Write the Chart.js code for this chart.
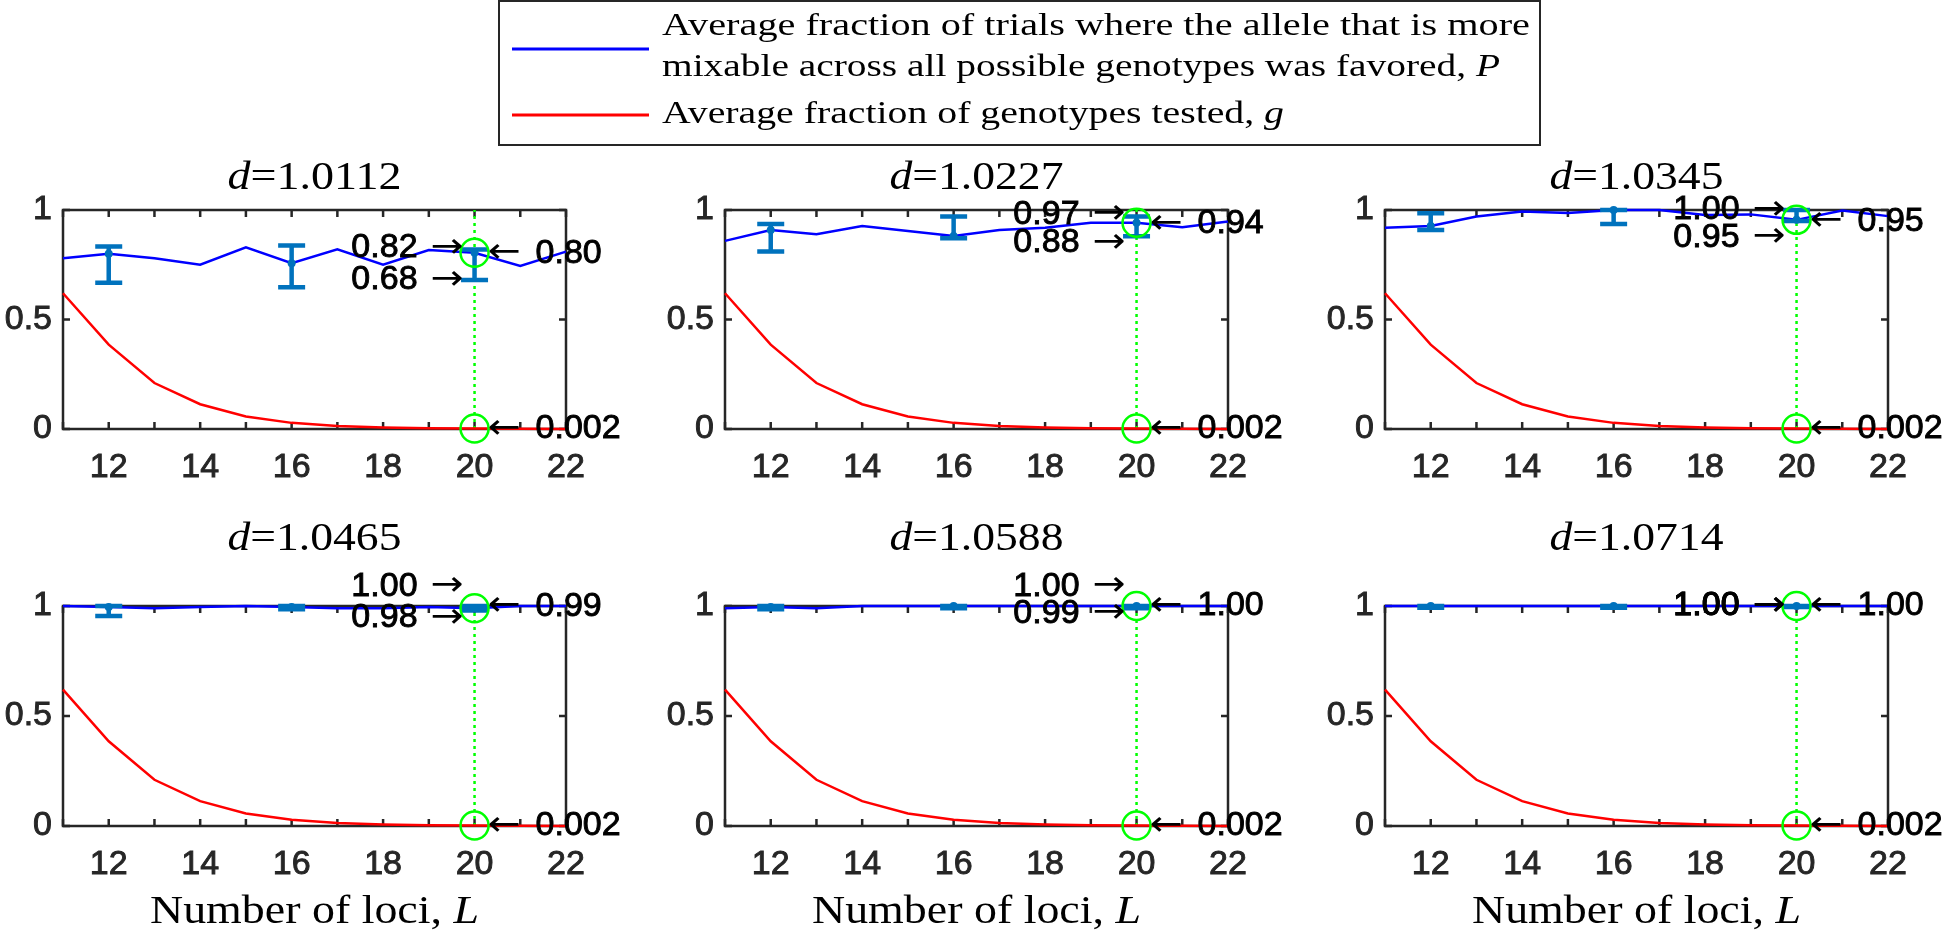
<!DOCTYPE html>
<html>
<head>
<meta charset="utf-8">
<script src="https://cdn.jsdelivr.net/npm/chart.js@4.4.1/dist/chart.umd.min.js"></script>
<style>
  html, body { margin: 0; padding: 0; background: #fff; overflow: hidden; width: 1946px; height: 934px; }
  canvas { position: absolute; }
  #overlay { position: absolute; left: 0; top: 0; }
</style>
</head>
<body>
<div id="charts"></div>
<svg id="overlay" width="1946" height="934" xmlns="http://www.w3.org/2000/svg"></svg>
<script>
// ---- data ----
const lociValues = [11, 12, 13, 14, 15, 16, 17, 18, 19, 20, 21, 22];
const xTickLabels = [12, 14, 16, 18, 20, 22];
const yTickLabels = [0, 0.5, 1];
const dValues = ['1.0112', '1.0227', '1.0345', '1.0465', '1.0588', '1.0714'];

// average fraction of genotypes tested (same in every panel)
const gValues = [0.62, 0.385, 0.21, 0.113, 0.057, 0.028, 0.014, 0.007, 0.0035, 0.002, 0.001, 0.0005];

// average fraction of trials where the more mixable allele was favored
const pValues1 = [0.78, 0.80, 0.78, 0.75, 0.83, 0.757, 0.82, 0.75, 0.817, 0.805, 0.744, 0.81];
const pValues2 = [0.859, 0.909, 0.889, 0.927, 0.904, 0.881, 0.909, 0.919, 0.942, 0.942, 0.921, 0.947];
const pValues3 = [0.919, 0.927, 0.970, 0.993, 0.986, 1.0, 1.0, 0.977, 0.98, 0.955, 0.998, 0.972];
const pValues4 = [1.0, 0.995, 0.99, 0.995, 1.0, 0.995, 0.99, 0.99, 0.995, 0.99, 1.0, 1.0];
const pValues5 = [0.99, 0.995, 0.99, 1.0, 1.0, 1.0, 1.0, 1.0, 1.0, 1.0, 1.0, 1.0];
const pValues6 = [1.0, 1.0, 1.0, 1.0, 1.0, 1.0, 1.0, 1.0, 1.0, 1.0, 1.0, 1.0];

// error bars
const errLoci = [12, 16, 20];
const errLow1 = [0.668, 0.647, 0.68];
const errHigh1 = [0.833, 0.838, 0.82];
const errLow2 = [0.81, 0.871, 0.88];
const errHigh2 = [0.936, 0.97, 0.97];
const errLow3 = [0.909, 0.936, 0.95];
const errHigh3 = [0.985, 1.0, 1.0];
const errLow4 = [0.955, 0.985, 0.98];
const errHigh4 = [1.0, 1.0, 1.0];
const errLow5 = [0.985, 0.99, 0.99];
const errHigh5 = [1.0, 1.0, 1.0];
const errLow6 = [0.992, 0.992, 0.995];
const errHigh6 = [1.0, 1.0, 1.0];

// highlighted locus and its text labels (label anchors in data units)
const markLocus = 20;
const upperText = ['0.82', '0.97', '1.00', '1.00', '1.00', '1.00'];
const upperAt = [0.827, 0.98, 1.0, 1.09, 1.09, 1.0];
const lowerText = ['0.68', '0.88', '0.95', '0.98', '0.99', '1.00'];
const lowerAt = [0.68, 0.85, 0.875, 0.945, 0.967, 1.0];
const pText = ['0.80', '0.94', '0.95', '0.99', '1.00', '1.00'];
const pAt = [0.803, 0.936, 0.947, 0.997, 1.0, 1.0];
const gText = '0.002';

const legendLines = [
  ['Average fraction of trials where the allele that is more', ''],
  ['mixable across all possible genotypes was favored, ', 'P'],
  ['Average fraction of genotypes tested, ', 'g']
];
const xLabel = ['Number of loci, ', 'L'];

const pAll = [pValues1, pValues2, pValues3, pValues4, pValues5, pValues6];
const lowAll = [errLow1, errLow2, errLow3, errLow4, errLow5, errLow6];
const highAll = [errHigh1, errHigh2, errHigh3, errHigh4, errHigh5, errHigh6];

// ---- layout ----
const boxLeft = [63, 725, 1385];
const boxTop = [210, 606];
const boxW = 503;
const boxH = [219, 220];
const padTop = 50, yAxisW = 63, padRight = 110, xAxisH = 60;
const titleBase = [189, 550];

const sansFamily = "'Liberation Sans', Arial, Helvetica, sans-serif";
const serifFamily = "'Liberation Serif', 'Times New Roman', serif";
const tickFont = { family: sansFamily, size: 34 };
const errColor = '#0072BD';
const arrowLen = 33;

// matlab style box, inward ticks, error bars and arrow labels
const matlabAxes = {
  id: 'matlabAxes',
  beforeDatasetsDraw(chart) {
    const { ctx, chartArea: a, scales: { x, y } } = chart;
    ctx.save();
    ctx.strokeStyle = '#262626';
    ctx.lineWidth = 2.5;
    ctx.beginPath();
    x.ticks.forEach(t => {
      const px = x.getPixelForValue(t.value);
      ctx.moveTo(px, a.bottom); ctx.lineTo(px, a.bottom - 7);
      ctx.moveTo(px, a.top); ctx.lineTo(px, a.top + 7);
    });
    y.ticks.forEach(t => {
      const py = y.getPixelForValue(t.value);
      ctx.moveTo(a.left, py); ctx.lineTo(a.left + 7, py);
      ctx.moveTo(a.right, py); ctx.lineTo(a.right - 7, py);
    });
    ctx.stroke();
    ctx.strokeRect(a.left, a.top, a.right - a.left, a.bottom - a.top);
    ctx.restore();
  },
  afterDatasetDraw(chart, args, opts) {
    if (chart.data.datasets[args.index].label !== 'P') return;
    const { ctx, scales: { x, y } } = chart;
    ctx.save();
    ctx.strokeStyle = errColor;
    ctx.fillStyle = errColor;
    ctx.lineWidth = 4.5;
    opts.loci.forEach((L, i) => {
      const px = x.getPixelForValue(L);
      const yl = y.getPixelForValue(opts.low[i]);
      const yh = y.getPixelForValue(opts.high[i]);
      ctx.beginPath();
      ctx.moveTo(px, yl); ctx.lineTo(px, yh);
      ctx.moveTo(px - 13.5, yl); ctx.lineTo(px + 13.5, yl);
      ctx.moveTo(px - 13.5, yh); ctx.lineTo(px + 13.5, yh);
      ctx.stroke();
      const pm = y.getPixelForValue(opts.mid[lociValues.indexOf(L)]);
      ctx.beginPath();
      ctx.arc(px, pm, 4, 0, Math.PI * 2);
      ctx.fill();
    });
    ctx.restore();
  },
  afterDraw(chart, args, opts) {
    const { ctx, scales: { x, y } } = chart;
    const px = x.getPixelForValue(markLocus);
    const arrow = (ch, xLeft, py) => {
      ctx.save();
      ctx.font = "34px 'DejaVu Sans', sans-serif";
      ctx.textAlign = 'left';
      ctx.textBaseline = 'middle';
      const w = ctx.measureText(ch).width;
      ctx.translate(xLeft, py);
      ctx.scale(arrowLen / w, 1);
      ctx.fillText(ch, 0, 0);
      ctx.restore();
    };
    ctx.save();
    ctx.font = '34px ' + sansFamily;
    ctx.fillStyle = '#000';
    ctx.strokeStyle = '#000';
    ctx.lineWidth = 0.9;
    ctx.textBaseline = 'middle';
    const label = (txt, xx, py) => {
      ctx.fillText(txt, xx, py);
      ctx.strokeText(txt, xx, py);
    };
    const leftLabel = (txt, v) => {
      const py = y.getPixelForValue(v);
      const aLeft = px - 11 - arrowLen;
      arrow('\u2192', aLeft, py);
      ctx.textAlign = 'right';
      label(txt, aLeft - 13, py);
    };
    const rightLabel = (txt, v) => {
      const py = y.getPixelForValue(v);
      const aLeft = px + 13;
      arrow('\u2190', aLeft, py);
      ctx.textAlign = 'left';
      label(txt, aLeft + arrowLen + 15, py);
    };
    leftLabel(opts.upperText, opts.upperAt);
    leftLabel(opts.lowerText, opts.lowerAt);
    rightLabel(opts.pText, opts.pAt);
    rightLabel(gText, 0);
    ctx.restore();
  }
};

const holder = document.getElementById('charts');
for (let k = 0; k < 6; k++) {
  const row = Math.floor(k / 3), col = k % 3;
  const cv = document.createElement('canvas');
  const w = yAxisW + boxW + padRight;
  const h = padTop + boxH[row] + xAxisH;
  cv.width = w; cv.height = h;
  cv.style.left = (boxLeft[col] - yAxisW) + 'px';
  cv.style.top = (boxTop[row] - padTop) + 'px';
  cv.style.width = w + 'px'; cv.style.height = h + 'px';
  holder.appendChild(cv);

  const p = pAll[k];
  const iMark = lociValues.indexOf(markLocus);
  new Chart(cv, {
    type: 'line',
    data: {
      datasets: [
        {
          label: 'marks',
          data: [{ x: markLocus, y: p[iMark] }, { x: markLocus, y: gValues[iMark] }],
          showLine: false,
          pointRadius: 14,
          pointBorderWidth: 2.5,
          pointBorderColor: '#00ff00',
          pointBackgroundColor: 'rgba(0,0,0,0)',
          order: 0,
          clip: false
        },
        {
          label: 'P',
          data: lociValues.map((L, i) => ({ x: L, y: p[i] })),
          borderColor: '#0000ff',
          borderWidth: 2.5,
          pointRadius: 0,
          tension: 0,
          order: 2,
          clip: false
        },
        {
          label: 'g',
          data: lociValues.map((L, i) => ({ x: L, y: gValues[i] })),
          borderColor: '#ff0000',
          borderWidth: 2.5,
          pointRadius: 0,
          tension: 0,
          order: 3,
          clip: false
        },
        {
          label: 'xline',
          data: [{ x: markLocus, y: 0 }, { x: markLocus, y: 1 }],
          borderColor: '#00ff00',
          borderWidth: 2.5,
          borderDash: [3, 4],
          pointRadius: 0,
          order: 4,
          clip: false
        }
      ]
    },
    options: {
      responsive: false,
      animation: false,
      events: [],
      layout: { padding: { top: padTop, right: padRight, left: 0, bottom: 0 } },
      scales: {
        x: {
          type: 'linear',
          min: 11,
          max: 22,
          afterFit: s => { s.height = xAxisH; },
          grid: { display: false, drawTicks: false },
          border: { display: false },
          ticks: {
            stepSize: 1,
            autoSkip: false,
            maxRotation: 0,
            padding: 18,
            color: '#262626',
            textStrokeColor: '#262626',
            textStrokeWidth: 0.9,
            font: tickFont,
            callback: v => (xTickLabels.includes(v) ? String(v) : '')
          }
        },
        y: {
          min: 0,
          max: 1,
          afterFit: s => { s.width = yAxisW; },
          grid: { display: false, drawTicks: false },
          border: { display: false },
          ticks: {
            stepSize: 0.5,
            padding: 11,
            color: '#262626',
            textStrokeColor: '#262626',
            textStrokeWidth: 0.9,
            font: tickFont,
            callback: v => (yTickLabels.includes(v) ? String(v) : '')
          }
        }
      },
      plugins: {
        legend: { display: false },
        tooltip: { enabled: false },
        matlabAxes: {
          loci: errLoci,
          low: lowAll[k],
          high: highAll[k],
          mid: p,
          upperText: upperText[k], upperAt: upperAt[k],
          lowerText: lowerText[k], lowerAt: lowerAt[k],
          pText: pText[k], pAt: pAt[k]
        }
      }
    },
    plugins: [matlabAxes]
  });
}

// ---- text overlay: legend, titles, x labels ----
const NS = 'http://www.w3.org/2000/svg';
const svg = document.getElementById('overlay');
function el(tag, attrs, parent) {
  const e = document.createElementNS(NS, tag);
  for (const a in attrs) e.setAttribute(a, attrs[a]);
  (parent || svg).appendChild(e);
  return e;
}
function mathText(parts, attrs) {
  const t = el('text', Object.assign({ fill: '#000', lengthAdjust: 'spacingAndGlyphs' }, attrs));
  t.style.fontFamily = serifFamily;
  const a = el('tspan', {}, t); a.textContent = parts[0];
  if (parts[1]) { const b = el('tspan', { 'font-style': 'italic' }, t); b.textContent = parts[1]; }
  return t;
}

el('rect', { x: 499, y: 1, width: 1041, height: 144, fill: '#fff', stroke: '#262626', 'stroke-width': 2 });
el('line', { x1: 512, y1: 49, x2: 649, y2: 49, stroke: '#0000ff', 'stroke-width': 3 });
el('line', { x1: 512, y1: 115, x2: 649, y2: 115, stroke: '#ff0000', 'stroke-width': 3 });
const legendBase = [35, 76, 123];
const legendWidth = [868, 838, 622];
legendLines.forEach((ln, i) => {
  mathText(ln, { x: 662, y: legendBase[i], 'font-size': 31, textLength: legendWidth[i] });
});

for (let k = 0; k < 6; k++) {
  const row = Math.floor(k / 3), col = k % 3;
  const cx = boxLeft[col] + boxW / 2;
  const t = el('text', { x: cx, y: titleBase[row], 'font-size': 40, 'text-anchor': 'middle', textLength: 174, lengthAdjust: 'spacingAndGlyphs' });
  t.style.fontFamily = serifFamily;
  const d = el('tspan', { 'font-style': 'italic' }, t); d.textContent = 'd';
  const rest = el('tspan', {}, t); rest.textContent = '=' + dValues[k];
  if (row === 1) {
    mathText(xLabel, { x: cx, y: 923, 'font-size': 41, 'text-anchor': 'middle', textLength: 329 });
  }
}
</script>
</body>
</html>
